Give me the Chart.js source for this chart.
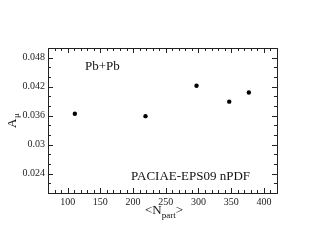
<!DOCTYPE html>
<html><head><meta charset="utf-8">
<script src="https://cdn.jsdelivr.net/npm/chart.js@4/dist/chart.umd.min.js"></script>
<style>html,body{margin:0;padding:0;background:#fff}#wrap{width:314px;height:242px}</style>
</head><body><div id="wrap"><canvas id="c" width="314" height="242"></canvas></div>
<script>
const nPart = [111, 219, 297, 347, 377];
const aMu = [0.0364, 0.0359, 0.0422, 0.0389, 0.0408];
const xTicks = [100, 150, 200, 250, 300, 350, 400];
const yTicks = [0.024, 0.03, 0.036, 0.042, 0.048];
const yTickLabels = ["0.024", "0.03", "0.036", "0.042", "0.048"];
const xMinorStep = 10;
const yMinorStep = 0.002;

const FONT = '"Liberation Serif", "Times New Roman", serif';

const framePlugin = {
  id: 'frame',
  afterDraw(chart) {
    const ctx = chart.ctx, a = chart.chartArea;
    const xs = chart.scales.x, ys = chart.scales.y;
    ctx.save();
    ctx.strokeStyle = '#222';
    ctx.lineWidth = 1;
    ctx.strokeRect(Math.round(a.left) + 0.5, Math.round(a.top) + 0.5, Math.round(a.right - a.left), Math.round(a.bottom - a.top));
    ctx.beginPath();
    // x ticks
    for (let v = Math.ceil(xs.min / xMinorStep) * xMinorStep; v <= xs.max; v += xMinorStep) {
      const px = Math.round(xs.getPixelForValue(v)) + 0.5;
      const major = xTicks.includes(v);
      const L = major ? 5 : 3;
      ctx.moveTo(px, a.bottom); ctx.lineTo(px, a.bottom - L);
      ctx.moveTo(px, a.top); ctx.lineTo(px, a.top + L);
    }
    // y ticks
    for (let i = Math.ceil(ys.min / yMinorStep - 1e-6); i * yMinorStep <= ys.max + 1e-9; i++) {
      const v = i * yMinorStep;
      const py = Math.round(ys.getPixelForValue(v)) + 0.5;
      const major = yTicks.some(t => Math.abs(t - v) < 1e-9);
      const L = major ? 5 : 3;
      ctx.moveTo(a.left, py); ctx.lineTo(a.left + L, py);
      ctx.moveTo(a.right, py); ctx.lineTo(a.right - L, py);
    }
    ctx.stroke();

    ctx.fillStyle = '#111';
    // y title A_mu
    ctx.save();
    ctx.translate(16, 128);
    ctx.rotate(-Math.PI / 2);
    ctx.font = '13px ' + FONT;
    ctx.textBaseline = 'alphabetic';
    ctx.textAlign = 'left';
    ctx.fillText('A', 0, 0);
    const wA = ctx.measureText('A').width;
    ctx.font = '9px ' + FONT;
    ctx.fillText('\u03bc', wA + 0.5, 3);
    ctx.restore();

    // x title <N_part>
    ctx.font = '13px ' + FONT;
    ctx.textAlign = 'left';
    ctx.textBaseline = 'alphabetic';
    let x = 145; const by = 214;
    ctx.fillText('<N', x, by);
    x += ctx.measureText('<N').width;
    ctx.font = '9px ' + FONT;
    ctx.fillText('part', x, by + 4);
    x += ctx.measureText('part').width;
    ctx.font = '13px ' + FONT;
    ctx.fillText('>', x, by);

    // annotations
    ctx.font = '13px ' + FONT;
    ctx.fillText('Pb+Pb', 85, 70);
    ctx.fillText('PACIAE-EPS09 nPDF', 131, 180);
    ctx.restore();
  }
};

new Chart(document.getElementById('c'), {
  type: 'scatter',
  data: {
    datasets: [{
      data: nPart.map((v, i) => ({ x: v, y: aMu[i] })),
      backgroundColor: '#000',
      borderColor: '#000',
      pointRadius: 2.2,
      pointHoverRadius: 2.2,
      borderWidth: 0
    }]
  },
  options: {
    responsive: false,
    animation: false,
    devicePixelRatio: 1,
    layout: { padding: { top: 48, right: 37, left: 0, bottom: 0 } },
    plugins: { legend: { display: false }, tooltip: { enabled: false } },
    scales: {
      x: {
        type: 'linear', min: 70, max: 420,
        afterBuildTicks: s => { s.ticks = xTicks.map(v => ({ value: v })); },
        afterFit: s => { s.height = 49; },
        grid: { display: false, drawTicks: false },
        border: { display: false },
        ticks: { color: '#222', font: { family: FONT, size: 10 }, padding: 3, maxRotation: 0, callback: v => String(v) }
      },
      y: {
        type: 'linear', min: 0.02, max: 0.05,
        afterBuildTicks: s => { s.ticks = yTicks.map(v => ({ value: v })); },
        afterFit: s => { s.width = 48; },
        grid: { display: false, drawTicks: false },
        border: { display: false },
        ticks: { color: '#222', font: { family: FONT, size: 10 }, padding: 3,
          callback: (v, i) => yTickLabels[i] }
      }
    }
  },
  plugins: [framePlugin]
});
</script>
</body></html>
